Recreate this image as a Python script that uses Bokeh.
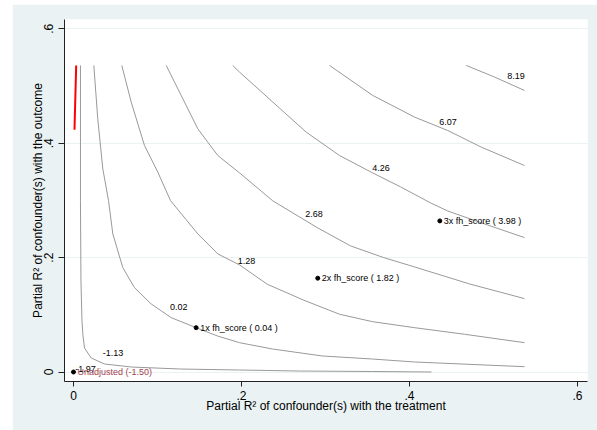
from bokeh.plotting import figure
from bokeh.models import Range1d, FixedTicker
from bokeh.embed import file_html
from bokeh.resources import INLINE
from bokeh.core.properties import value

# ---- data ----
# contour lines (partial R2 with treatment, partial R2 with outcome)
c_m113_x = [0.0083, 0.0083, 0.0089, 0.0101, 0.0113, 0.0131, 0.0211, 0.0369, 0.069, 0.1274, 0.1976, 0.2702, 0.356, 0.4262]
c_m113_y = [0.536, 0.2992, 0.1592, 0.0892, 0.0637, 0.042, 0.0245, 0.014, 0.0087, 0.0052, 0.0035, 0.0017, 0.0009, 0.0]

c_002_x = [0.0242, 0.0289, 0.0349, 0.0417, 0.0468, 0.0587, 0.0726, 0.0925, 0.1163, 0.146, 0.1714, 0.1976, 0.2369, 0.2964, 0.356, 0.406, 0.5369]
c_002_y = [0.536, 0.4427, 0.3552, 0.2997, 0.2415, 0.1825, 0.1475, 0.119, 0.095, 0.0775, 0.063, 0.0513, 0.0402, 0.028, 0.0227, 0.0175, 0.0093]

c_128_x = [0.0575, 0.0687, 0.0845, 0.1004, 0.1155, 0.148, 0.1718, 0.1976, 0.2306, 0.2742, 0.3167, 0.356, 0.406, 0.4655, 0.5369]
c_128_y = [0.536, 0.4719, 0.396, 0.3494, 0.2997, 0.2415, 0.2065, 0.1873, 0.1535, 0.1255, 0.101, 0.088, 0.0775, 0.066, 0.0513]

c_268_x = [0.1104, 0.1282, 0.148, 0.1718, 0.1976, 0.2373, 0.2901, 0.3298, 0.3694, 0.406, 0.4714, 0.5369]
c_268_y = [0.536, 0.4835, 0.4252, 0.3785, 0.3482, 0.2992, 0.2525, 0.2205, 0.2, 0.1837, 0.154, 0.1283]

c_426_x = [0.1896, 0.1976, 0.2373, 0.277, 0.3167, 0.356, 0.3893, 0.425, 0.4452, 0.4857, 0.5369]
c_426_y = [0.536, 0.5244, 0.4719, 0.4194, 0.3785, 0.3482, 0.3237, 0.2957, 0.2817, 0.2607, 0.235]

c_607_x = [0.3048, 0.3563, 0.406, 0.4456, 0.4854, 0.5369]
c_607_y = [0.536, 0.4835, 0.4457, 0.4222, 0.3932, 0.361]

c_819_x = [0.4675, 0.5012, 0.5369]
c_819_y = [0.536, 0.5157, 0.4922]

# red threshold segment
red_x = [0.0032, 0.0012]
red_y = [0.536, 0.4235]

# contour labels
lab_text = ["-1.97", "-1.13", "0.02", "1.28", "2.68", "4.26", "6.07", "8.19"]
lab_x = [0.0143, 0.0470, 0.1254, 0.2060, 0.2863, 0.3660, 0.4458, 0.5268]
lab_y = [0.0060, 0.0327, 0.1137, 0.1942, 0.2765, 0.3561, 0.4369, 0.5167]

# benchmark points
pt_x = [0.0, 0.146, 0.2908, 0.4361]
pt_y = [0.0, 0.0775, 0.164, 0.2642]
pt_text = ["Unadjusted (-1.50)", "1x fh_score ( 0.04 )", "2x fh_score ( 1.82 )", "3x fh_score ( 3.98 )"]
pt_color = ["#a3434f", "black", "black", "black"]

ticks = [0, 0.2, 0.4, 0.6]
tick_labels = ["0", ".2", ".4", ".6"]

BG = "#EAF2F3"
FONT = "Liberation Sans"

p = figure(width=585, height=426, output_backend="svg", toolbar_location=None,
           x_range=Range1d(-0.0107, 0.6119), y_range=Range1d(-0.0166, 0.6163),
           min_border_left=52, min_border_right=10, min_border_top=15, min_border_bottom=49)
p.margin = (4, 0, 0, 12)
p.border_fill_color = BG
p.background_fill_color = "white"
p.outline_line_color = None

p.xgrid.visible = False
p.ygrid.ticker = FixedTicker(ticks=ticks)
p.ygrid.grid_line_color = BG
p.ygrid.grid_line_width = 1

for ax in (p.xaxis[0], p.yaxis[0]):
    ax.ticker = FixedTicker(ticks=ticks)
    ax.major_label_overrides = {t: l for t, l in zip(ticks, tick_labels)}
    ax.minor_tick_line_color = None
    ax.major_tick_in = 0
    ax.major_tick_out = 5
    ax.axis_line_color = "#222222"
    ax.major_tick_line_color = "#222222"
    ax.major_label_text_font = FONT
    ax.major_label_text_font_size = "12px"
    ax.major_label_text_color = "black"
    ax.axis_label_text_font = FONT
    ax.axis_label_text_font_size = "12px"
    ax.axis_label_text_font_style = "normal"
    ax.axis_label_text_color = "black"

p.xaxis.axis_label = "Partial R\u00b2 of confounder(s) with the treatment"
p.yaxis.axis_label = "Partial R\u00b2 of confounder(s) with the outcome"
p.yaxis.major_label_orientation = "vertical"
p.xaxis.major_label_standoff = 4
p.xaxis.axis_label_standoff = -4
p.yaxis.major_label_standoff = 5
p.yaxis.axis_label_standoff = -3
p.yaxis.major_tick_out = 6

for xs, ys in [(c_m113_x, c_m113_y), (c_002_x, c_002_y), (c_128_x, c_128_y),
               (c_268_x, c_268_y), (c_426_x, c_426_y), (c_607_x, c_607_y),
               (c_819_x, c_819_y)]:
    p.line(xs, ys, line_color="#999999", line_width=1)

p.line(red_x, red_y, line_color="#ff0000", line_width=2)

p.text(x=lab_x, y=lab_y, text=lab_text, text_font=value(FONT), text_font_size="9px",
       text_align="center", text_baseline="middle", text_color="black")

p.scatter(pt_x, pt_y, size=4, color="black")
p.text(x=pt_x, y=pt_y, text=pt_text, text_color=pt_color, text_font=value(FONT),
       text_font_size="9px", text_align="left", text_baseline="middle", x_offset=4)

open("out.html", "w").write(file_html(p, INLINE))
